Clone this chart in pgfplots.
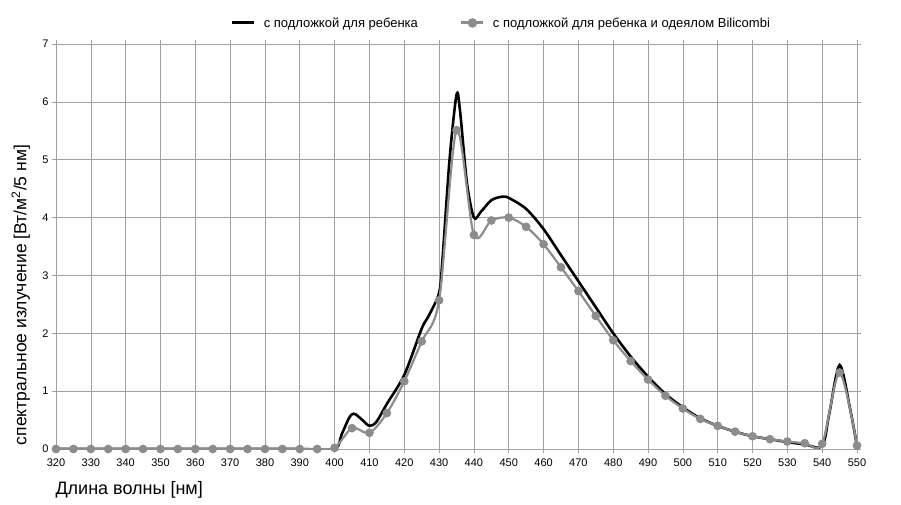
\documentclass[border=0pt]{standalone}
\usepackage{pgfplots}
\pgfplotsset{compat=1.18}
\usepackage{fontspec}
\setmainfont{Liberation Sans}
\definecolor{gridgray}{RGB}{160,160,160}
\definecolor{sergray}{RGB}{140,140,140}

\begin{document}
\begin{tikzpicture}
\path[use as bounding box] (-56pt,-55pt) rectangle (845pt,449pt);
\begin{axis}[
    scale only axis,
    width=801pt, height=405pt,
    xmin=320, xmax=550, ymin=0, ymax=7,
    xtick={320,330,...,550}, ytick={0,1,...,7},
    grid=major,
    major grid style={gridgray, line width=0.6pt},
    axis line style={gridgray, line width=0.8pt},
    tick style={gridgray, line width=0.6pt},
    tick align=outside, major tick length=4pt,
    tick label style={font=\fontsize{11}{13}\selectfont},
    /pgf/number format/assume math mode=true,
    x tick label style={yshift=-2pt},
    xlabel={Длина волны [нм]},
    xlabel style={at={(axis description cs:-0.005,-0.101)}, anchor=west, font=\fontsize{18}{20}\selectfont},
    ylabel={спектральное излучение [Вт/м\textsuperscript{2}/5 нм]},
    ylabel style={at={(axis description cs:-0.044,0.38)}, anchor=center, font=\fontsize{17.5}{20}\selectfont},
    legend columns=2,
    legend style={at={(axis description cs:0.556,1.052)}, anchor=center, draw=none, fill=none,
        font=\fontsize{13}{15}\selectfont,
        /tikz/every odd column/.append style={column sep=6pt},
        /tikz/every even column/.append style={column sep=40pt}},
    legend image code/.code={\draw[mark repeat=2, mark phase=2, #1, line width=3pt] plot coordinates {(0pt,0pt) (11pt,0pt) (22pt,0pt)};},
]
\addplot[black, line width=2.6pt, smooth, tension=0.5] coordinates {
  (320,0) (330,0) (340,0) (350,0) (360,0) (370,0) (380,0) (390,0) (400,0)
  (402,0.25) (404,0.52) (405,0.6) (406,0.6) (408,0.5) (410,0.4) (412,0.47)
  (415,0.78) (420,1.28) (425,2.08) (427,2.3) (430,2.7) (431,3.3) (433,5.0)
  (435,6.12) (436,5.85) (438,4.6) (440,4.0) (442,4.1) (445,4.3) (448,4.36)
  (450,4.34) (455,4.15) (460,3.8) (465,3.35) (470,2.9) (475,2.45) (480,2.0)
  (485,1.6) (490,1.25) (495,0.95) (500,0.72) (505,0.53) (510,0.4) (515,0.3)
  (520,0.22) (525,0.17) (530,0.12) (535,0.08) (540,0.05) (542,0.6) (545,1.45)
  (548,0.7) (550,0.05)
};
\addlegendentry{с подложкой для ребенка}
\addplot[sergray, line width=2.2pt, smooth, tension=0.5, mark=*, mark size=3.2pt,
    mark options={fill=sergray, draw=sergray}] coordinates {
  (320,0) (325,0) (330,0) (335,0) (340,0) (345,0) (350,0) (355,0) (360,0)
  (365,0) (370,0) (375,0) (380,0) (385,0) (390,0) (395,0) (400,0.02)
  (405,0.36) (410,0.28) (415,0.62) (420,1.17) (425,1.86) (430,2.57)
  (435,5.51) (440,3.70) (445,3.95) (450,4.0) (455,3.84) (460,3.54)
  (465,3.14) (470,2.73) (475,2.3) (480,1.88) (485,1.52) (490,1.2)
  (495,0.92) (500,0.7) (505,0.52) (510,0.4) (515,0.3) (520,0.22)
  (525,0.17) (530,0.13) (535,0.1) (540,0.09) (545,1.32) (550,0.06)
};
\addlegendentry{с подложкой для ребенка и одеялом Bilicombi}
\end{axis}
\end{tikzpicture}
\end{document}
